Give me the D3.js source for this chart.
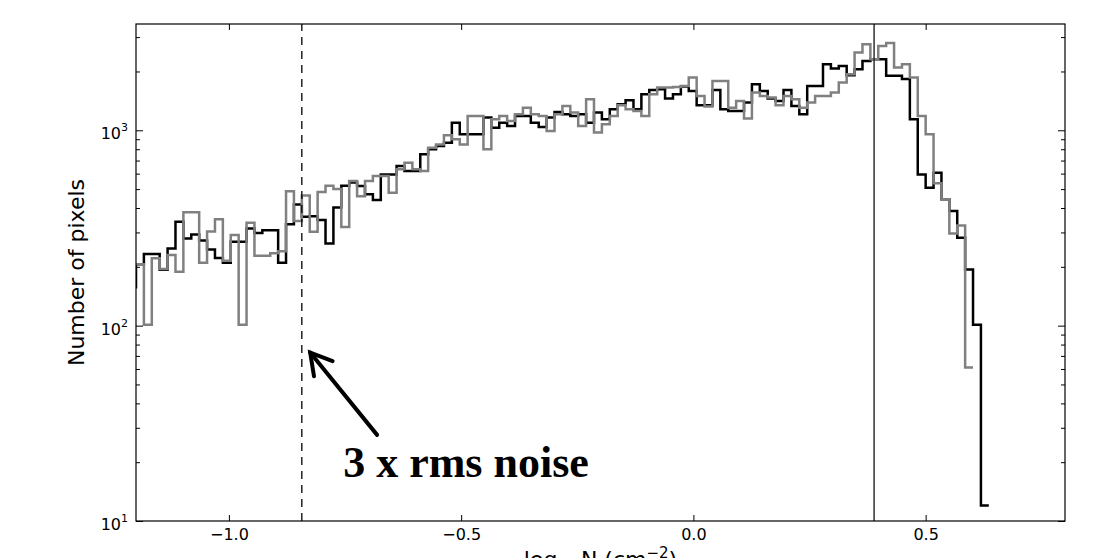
<!DOCTYPE html>
<html><head><meta charset="utf-8">
<script src="https://cdn.jsdelivr.net/npm/d3@7"></script>
<style>
body{margin:0;background:#fff;}
svg{display:block;font-family:"DejaVu Sans",sans-serif;}
</style></head><body>
<svg id="c" width="1100" height="558"></svg>
<script>
// ---- data ----
const binWidth = 0.017;
const blackStart = -1.217;
const blackCounts = [157,
 206,233,233,193,248,340,279,293,273,245,
 222,210,269,269,314,298,308,308,210,330,
 417,361,363,347,263,402,520,540,518,470,
 440,594,594,656,618,618,754,799,830,864,
 1094,953,953,953,1161,1030,1094,1052,1184,1184,
 1094,1040,1161,1241,1208,1184,1208,1094,1232,1138,
 1281,1359,1425,1281,1530,1610,1623,1453,1530,1676,
 1591,1343,1343,1610,1281,1256,1256,1386,1721,1591,
 1453,1414,1610,1332,1208,1687,1687,2178,2070,2136,
 1914,2055,2265,2312,2312,1900,1900,1828,1138,594,
 508,606,443,386,282,194,101,12];
const grayStart = -1.2;
const grayCounts = [
 206,101,221,195,230,189,381,381,210,303,
 350,215,291,101,336,228,228,235,240,488,
 343,464,302,483,520,500,320,550,460,550,
 583,583,479,631,683,631,618,815,847,942,
 900,847,1184,1184,799,1138,1184,1115,1208,1306,
 1208,1184,992,1208,1332,1232,1052,1442,973,1073,
 1184,1343,1281,1256,1184,1530,1656,1656,1666,1687,
 1862,1500,1322,1790,1790,1306,1414,1148,1560,1500,
 1471,1343,1500,1442,1306,1386,1500,1500,1560,1758,
 1936,2500,2760,2312,2700,2800,2095,2178,1862,1184,
 953,535,443,296,326,61];
const xDomain = [-1.2, 0.8];
const yDomain = [10, 3500];
const xTicks = [-1.0, -0.5, 0.0, 0.5];
const xTickLabels = ["\u22121.0", "\u22120.5", "0.0", "0.5"];
const yTicks = [10, 100, 1000];
const yTickExponents = ["1", "2", "3"];
const yMinorTicks = [20,30,40,50,60,70,80,90,200,300,400,500,600,700,800,900,2000,3000];
const noiseLevel = -0.843;
const peakLevel = 0.389;
const annotationText = "3 x rms noise";
const arrowTip = [-0.825, 72.8];
const arrowTail = [-0.681, 27.6];
const textAnchor = [-0.754, 16.8];
const yLabel = "Number of pixels";

// ---- layout ----
const L = 136, R = 1065, T = 24, B = 521;
const svg = d3.select("#c");
const x = d3.scaleLinear().domain(xDomain).range([L, R]);
const y = d3.scaleLog().domain(yDomain).range([B, T]);

svg.append("defs").append("clipPath").attr("id","clip")
  .append("rect").attr("x",L).attr("y",T).attr("width",R-L).attr("height",B-T);

function stepPoints(start, counts){
  const pts = counts.map((c,i)=>[start+i*binWidth, c]);
  pts.push([start+counts.length*binWidth, counts[counts.length-1]]);
  return pts;
}
const line = d3.line().x(d=>x(d[0])).y(d=>y(d[1])).curve(d3.curveStepAfter);
const plot = svg.append("g").attr("clip-path","url(#clip)");

plot.append("path").attr("d", line(stepPoints(blackStart, blackCounts)))
  .attr("fill","none").attr("stroke","#000").attr("stroke-width",2.5);
plot.append("path").attr("d", line(stepPoints(grayStart, grayCounts)))
  .attr("fill","none").attr("stroke","#808080").attr("stroke-width",2.5);

// reference lines
plot.append("line").attr("x1",x(noiseLevel)).attr("x2",x(noiseLevel))
  .attr("y1",B).attr("y2",T).attr("stroke","#000").attr("stroke-width",1.3)
  .attr("stroke-dasharray","8,6");
plot.append("line").attr("x1",x(peakLevel)).attr("x2",x(peakLevel))
  .attr("y1",B).attr("y2",T).attr("stroke","#222").attr("stroke-width",1.4);

// axes ticks
function styleAxis(g){
  g.select(".domain").remove();
  g.selectAll(".tick line").attr("stroke","#000").attr("stroke-width",1);
  g.selectAll("text").attr("font-family","DejaVu Sans").attr("font-size",16).attr("fill","#000");
}
svg.append("g").attr("transform",`translate(0,${B})`)
  .call(d3.axisBottom(x).tickValues(xTicks).tickFormat((d,i)=>xTickLabels[i]).tickSize(-6).tickPadding(8))
  .call(styleAxis);
svg.append("g").attr("transform",`translate(0,${T})`)
  .call(d3.axisTop(x).tickValues(xTicks).tickFormat("").tickSize(-6))
  .call(styleAxis);
svg.append("g").attr("transform",`translate(${L},0)`)
  .call(d3.axisLeft(y).tickValues(yTicks).tickFormat("").tickSize(-7))
  .call(styleAxis);
svg.append("g").attr("transform",`translate(${L},0)`)
  .call(d3.axisLeft(y).tickValues(yMinorTicks).tickFormat("").tickSize(-4))
  .call(styleAxis);
svg.append("g").attr("transform",`translate(${R},0)`)
  .call(d3.axisRight(y).tickValues(yTicks).tickFormat("").tickSize(-7))
  .call(styleAxis);
svg.append("g").attr("transform",`translate(${R},0)`)
  .call(d3.axisRight(y).tickValues(yMinorTicks).tickFormat("").tickSize(-4))
  .call(styleAxis);

// y tick labels 10^n
yTicks.forEach((v,i)=>{
  const t = svg.append("text").attr("x", L-8).attr("y", y(v)+9)
    .attr("text-anchor","end").attr("font-size",16).attr("fill","#000");
  t.append("tspan").text("10");
  t.append("tspan").attr("dy",-8).attr("font-size",11).text(yTickExponents[i]);
});

// frame
svg.append("rect").attr("x",L).attr("y",T).attr("width",R-L).attr("height",B-T)
  .attr("fill","none").attr("stroke","#000").attr("stroke-width",1.2);

// axis labels
svg.append("text").attr("transform",`translate(84,${(T+B)/2}) rotate(-90)`)
  .attr("text-anchor","middle").attr("font-size",22).attr("fill","#000").text(yLabel);

const xl = svg.append("text").attr("x",(L+R)/2).attr("y",567)
  .attr("text-anchor","middle").attr("font-size",22).attr("fill","#000");
xl.append("tspan").text("log");
xl.append("tspan").attr("font-size",15).attr("dy",5).text("10");
xl.append("tspan").attr("dy",-5).text("\u2009N (cm");
xl.append("tspan").attr("font-size",15).attr("dy",-9).text("\u22122");
xl.append("tspan").attr("dy",9).text(")");

// annotation arrow
const tx = x(arrowTip[0]), ty = y(arrowTip[1]);
const sx = x(arrowTail[0]), sy = y(arrowTail[1]);
const ang = Math.atan2(sy-ty, sx-tx);
const hl = 24, ha = Math.PI/6;
const ann = svg.append("g").attr("stroke","#000").attr("stroke-width",4).attr("stroke-linecap","round").attr("fill","none");
ann.append("line").attr("x1",sx).attr("y1",sy).attr("x2",tx).attr("y2",ty);
ann.append("polyline").attr("stroke-linejoin","miter").attr("points",[
  [tx+hl*Math.cos(ang+ha), ty+hl*Math.sin(ang+ha)],
  [tx,ty],
  [tx+hl*Math.cos(ang-ha), ty+hl*Math.sin(ang-ha)]].map(p=>p.join(",")).join(" "));

svg.append("text").attr("x",x(textAnchor[0])).attr("y",y(textAnchor[1]))
  .attr("font-family","'Liberation Serif',serif").attr("font-weight","bold")
  .attr("font-size",44).attr("fill","#000").text(annotationText);
</script>
</body></html>
